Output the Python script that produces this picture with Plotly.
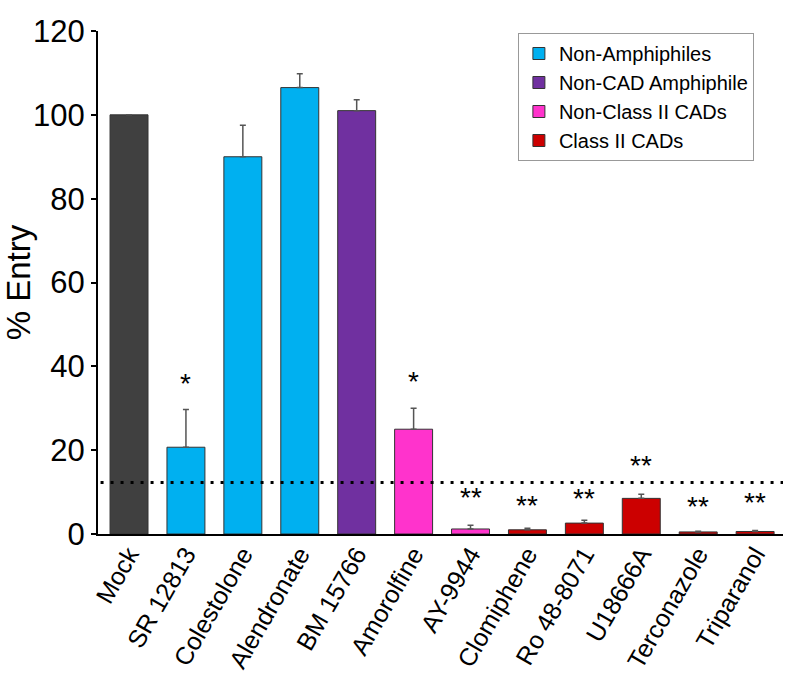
import plotly.graph_objects as go

categories = ["Mock", "SR 12813", "Colestolone", "Alendronate", "BM 15766", "Amorolfine",
              "AY-9944", "Clomiphene", "Ro 48-8071", "U18666A", "Terconazole", "Triparanol"]
values = [100.0, 20.7, 90.0, 106.5, 101.0, 25.0, 1.2, 1.0, 2.6, 8.5, 0.5, 0.6]
errors = [0.0, 9.0, 7.5, 3.3, 2.6, 5.0, 0.9, 0.4, 0.7, 1.0, 0.15, 0.25]
groups = ["Mock", "Non-Amphiphiles", "Non-Amphiphiles", "Non-Amphiphiles", "Non-CAD Amphiphile",
          "Non-Class II CADs", "Non-Class II CADs", "Class II CADs", "Class II CADs",
          "Class II CADs", "Class II CADs", "Class II CADs"]
stars = ["", "*", "", "", "", "*", "**", "**", "**", "**", "**", "**"]
star_y = [0, 36, 0, 0, 0, 36.5, 8.8, 6.9, 8.5, 16.4, 6.5, 7.4]
threshold = 12.3

group_order = ["Mock", "Non-Amphiphiles", "Non-CAD Amphiphile", "Non-Class II CADs", "Class II CADs"]
group_colors = {"Mock": "#404040", "Non-Amphiphiles": "#00B0F0", "Non-CAD Amphiphile": "#7030A0",
                "Non-Class II CADs": "#FF33CC", "Class II CADs": "#CC0000"}

FONT = "Liberation Sans, Arial, sans-serif"
fig = go.Figure()
for g in group_order:
    idx = [i for i, gg in enumerate(groups) if gg == g]
    fig.add_trace(go.Bar(
        x=idx, y=[values[i] for i in idx], name=g, width=0.667,
        marker=dict(color=group_colors[g], line=dict(color="#333333", width=1)),
        error_y=dict(type="data", symmetric=False, array=[errors[i] for i in idx],
                     arrayminus=[0] * len(idx), color="#555555", thickness=1.5, width=3,
                     visible=True),
        showlegend=(g != "Mock"),
    ))

for i, s in enumerate(stars):
    if s:
        fig.add_annotation(x=i, y=star_y[i], text=s, showarrow=False, yanchor="middle",
                           font=dict(family=FONT, size=28, color="black"))

fig.add_shape(type="line", xref="x", yref="y", x0=-0.5, x1=11.57, y0=threshold, y1=threshold,
              line=dict(color="black", width=3, dash="3px,7px"), layer="above")

fig.update_layout(
    width=794, height=680,
    margin=dict(l=98, r=11, t=31, b=146),
    plot_bgcolor="white", paper_bgcolor="white",
    barmode="overlay",
    font=dict(family=FONT, color="black"),
    legend=dict(x=0.613, y=0.996, xanchor="left", yanchor="top",
                bordercolor="#999999", borderwidth=1, bgcolor="white",
                font=dict(family=FONT, size=20), traceorder="normal"),
    xaxis=dict(range=[-0.545, 11.49], tickmode="array", tickvals=list(range(len(categories))),
               ticktext=categories, tickangle=-60, tickfont=dict(family=FONT, size=25),
               showline=True, linecolor="black", linewidth=2, ticks="", showgrid=False,
               zeroline=False, automargin=False, ticklabelstandoff=-6),
    yaxis=dict(range=[0, 120], tickvals=[0, 20, 40, 60, 80, 100, 120],
               tickfont=dict(family=FONT, size=31), ticks="outside", ticklen=5, tickwidth=2,
               tickcolor="black", showline=True, linecolor="black", linewidth=2,
               showgrid=False, zeroline=False, automargin=False,
               title=dict(text="% Entry", font=dict(family=FONT, size=33), standoff=6)),
)

fig.write_html("out.html", config={"displayModeBar": False},
               post_script="document.body.style.margin='0px';")
